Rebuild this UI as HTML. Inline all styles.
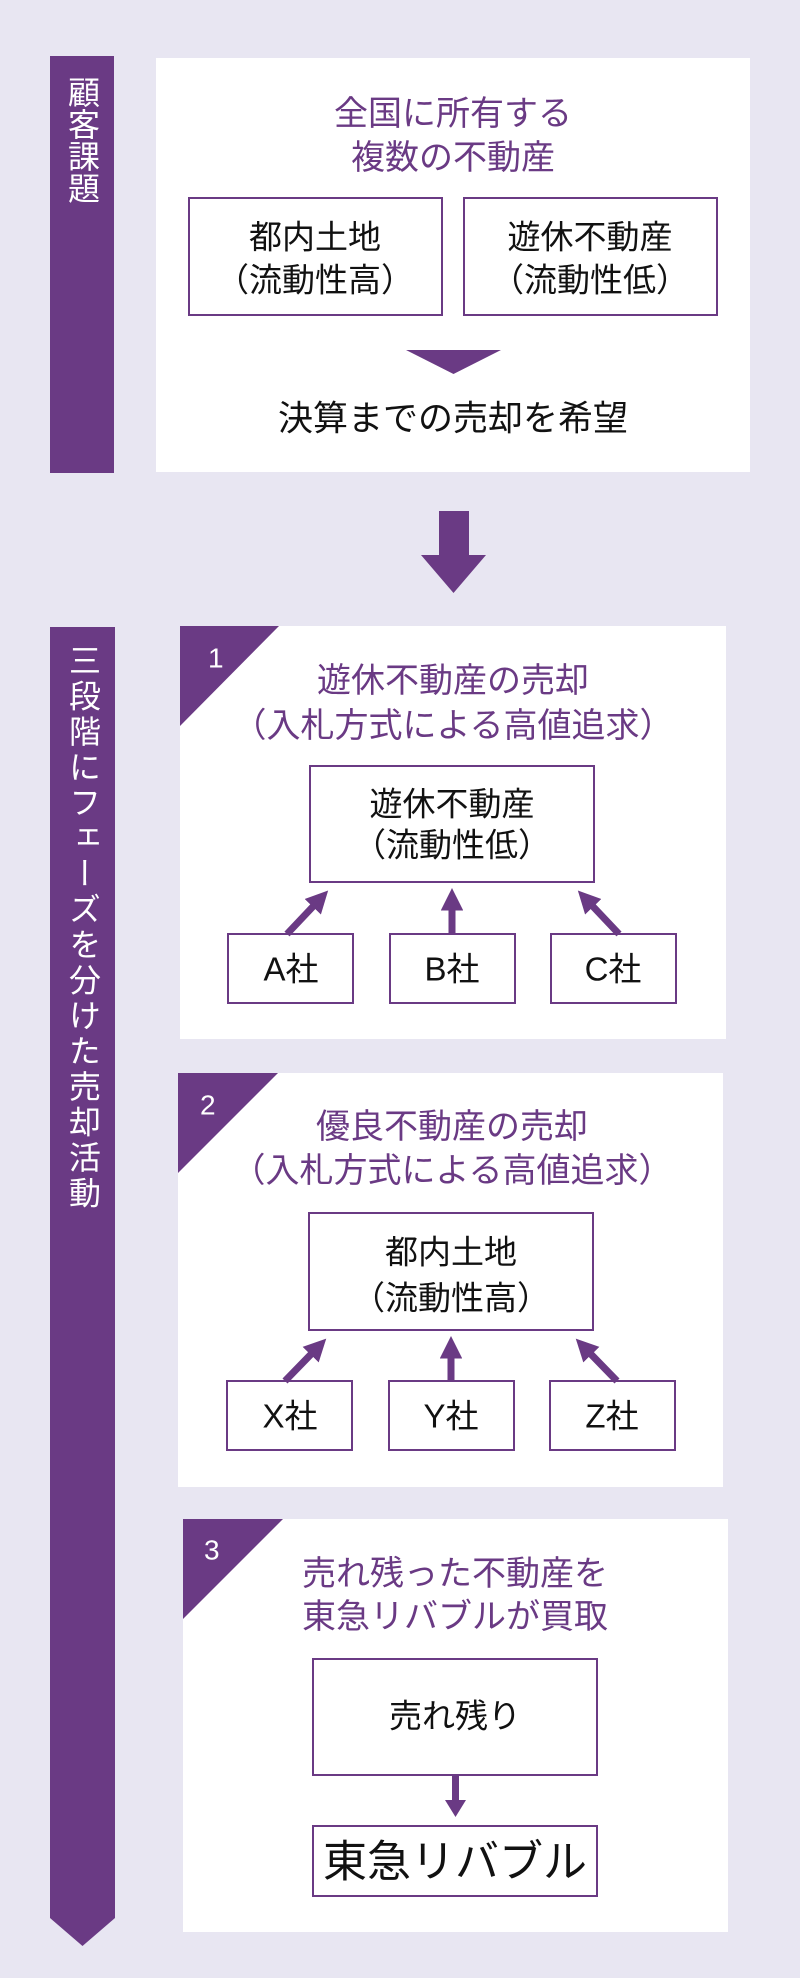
<!DOCTYPE html>
<html><head><meta charset="utf-8"><style>
html,body{margin:0;padding:0;background:#e8e6f2;}
svg text{font-family:"Liberation Sans","Noto Sans CJK JP",sans-serif;}
.vt{position:absolute;writing-mode:vertical-rl;color:#fff;font-family:"Liberation Sans","Noto Sans CJK JP",sans-serif;font-size:32px;line-height:64px;width:64px;}
</style></head><body>
<div style="position:relative;width:800px;height:1978px;overflow:hidden;">
<svg width="800" height="1978" viewBox="0 0 800 1978" style="position:absolute;left:0;top:0">
<defs>
<marker id="ah" viewBox="0 0 10 10" refX="6" refY="5" markerWidth="3.2" markerHeight="3.2" orient="auto"><path d="M0,0 L10,5 L0,10 z" fill="#6a3a84"/></marker>
</defs>
<rect width="800" height="1978" fill="#e8e6f2"/>
<rect x="50" y="56" width="64" height="417" fill="#6a3a84"/>
<path d="M50,627 H115 V1918 L82.5,1946 L50,1918 Z" fill="#6a3a84"/>
<!-- section 1 -->
<rect x="156" y="58" width="594" height="414" fill="#fff"/>
<g fill="#6a3a84" font-size="34" text-anchor="middle">
<text x="453" y="114" dominant-baseline="central">全国に所有する</text>
<text x="453" y="158" dominant-baseline="central">複数の不動産</text>
</g>
<g fill="#fff" stroke="#6a3a84" stroke-width="2">
<rect x="189" y="198" width="253" height="117"/>
<rect x="464" y="198" width="253" height="117"/>
</g>
<g fill="#111" font-size="33" text-anchor="middle">
<text x="315" y="237" dominant-baseline="central">都内土地</text>
<text x="315" y="280" dominant-baseline="central">（流動性高）</text>
<text x="590" y="237" dominant-baseline="central">遊休不動産</text>
<text x="590" y="280" dominant-baseline="central">（流動性低）</text>
<text x="453" y="419" dominant-baseline="central" font-size="35">決算までの売却を希望</text>
</g>
<path d="M406,350 L501,350 L453.5,374 Z" fill="#6a3a84"/>
<path d="M439,511 H469 V555 H486 L453.5,593 L421,555 H439 Z" fill="#6a3a84"/>

<!-- phase 1 -->
<rect x="180" y="626" width="546" height="413" fill="#fff"/>
<path d="M180,626 L279,626 L180,726 Z" fill="#6a3a84"/>
<text x="208" y="658" fill="#fff" font-size="28" dominant-baseline="central">1</text>
<g fill="#6a3a84" font-size="34" text-anchor="middle">
<text x="453" y="681" dominant-baseline="central">遊休不動産の売却</text>
<text x="453" y="726" dominant-baseline="central">（入札方式による高値追求）</text>
</g>
<g fill="#fff" stroke="#6a3a84" stroke-width="2">
<rect x="310" y="766" width="284" height="116"/>
<rect x="228" y="934" width="125" height="69"/>
<rect x="390" y="934" width="125" height="69"/>
<rect x="551" y="934" width="125" height="69"/>
</g>
<g fill="#111" font-size="33" text-anchor="middle">
<text x="452" y="804" dominant-baseline="central">遊休不動産</text>
<text x="452" y="845" dominant-baseline="central">（流動性低）</text>
<text x="291" y="969" dominant-baseline="central">A社</text>
<text x="452" y="969" dominant-baseline="central">B社</text>
<text x="613" y="969" dominant-baseline="central">C社</text>
</g>
<g stroke="#6a3a84" stroke-width="7" marker-end="url(#ah)">
<line x1="287" y1="934" x2="322" y2="897"/>
<line x1="452" y1="934" x2="452" y2="897"/>
<line x1="619" y1="934" x2="584" y2="897"/>
</g>

<!-- phase 2 -->
<rect x="178" y="1073" width="545" height="414" fill="#fff"/>
<path d="M178,1073 L278,1073 L178,1173 Z" fill="#6a3a84"/>
<text x="200" y="1105" fill="#fff" font-size="28" dominant-baseline="central">2</text>
<g fill="#6a3a84" font-size="34" text-anchor="middle">
<text x="452" y="1127" dominant-baseline="central">優良不動産の売却</text>
<text x="452" y="1171" dominant-baseline="central">（入札方式による高値追求）</text>
</g>
<g fill="#fff" stroke="#6a3a84" stroke-width="2">
<rect x="309" y="1213" width="284" height="117"/>
<rect x="227" y="1381" width="125" height="69"/>
<rect x="389" y="1381" width="125" height="69"/>
<rect x="550" y="1381" width="125" height="69"/>
</g>
<g fill="#111" font-size="33" text-anchor="middle">
<text x="451" y="1252" dominant-baseline="central">都内土地</text>
<text x="451" y="1298" dominant-baseline="central">（流動性高）</text>
<text x="290" y="1416" dominant-baseline="central">X社</text>
<text x="451" y="1416" dominant-baseline="central">Y社</text>
<text x="612" y="1416" dominant-baseline="central">Z社</text>
</g>
<g stroke="#6a3a84" stroke-width="7" marker-end="url(#ah)">
<line x1="285" y1="1381" x2="320" y2="1345"/>
<line x1="451" y1="1381" x2="451" y2="1345"/>
<line x1="617" y1="1381" x2="582" y2="1345"/>
</g>

<!-- phase 3 -->
<rect x="183" y="1519" width="545" height="413" fill="#fff"/>
<path d="M183,1519 L283,1519 L183,1619 Z" fill="#6a3a84"/>
<text x="204" y="1550" fill="#fff" font-size="28" dominant-baseline="central">3</text>
<g fill="#6a3a84" font-size="34" text-anchor="middle">
<text x="455" y="1574" dominant-baseline="central">売れ残った不動産を</text>
<text x="455" y="1617" dominant-baseline="central">東急リバブルが買取</text>
</g>
<g fill="#fff" stroke="#6a3a84" stroke-width="2">
<rect x="313" y="1659" width="284" height="116"/>
<rect x="313" y="1826" width="284" height="70"/>
</g>
<text x="455" y="1716" fill="#111" font-size="33" text-anchor="middle" dominant-baseline="central">売れ残り</text>
<text x="455" y="1862" fill="#111" font-size="44" text-anchor="middle" dominant-baseline="central">東急リバブル</text>
<path d="M452,1775 H459 V1800 H466 L455.5,1817 L445,1800 H452 Z" fill="#6a3a84"/>
</svg>
<div class="vt" style="left:50px;top:76px;">顧客課題</div>
<div class="vt" style="left:51px;top:644px;letter-spacing:3.5px;">三段階にフェーズを分けた売却活動</div>
</div>
</body></html>
